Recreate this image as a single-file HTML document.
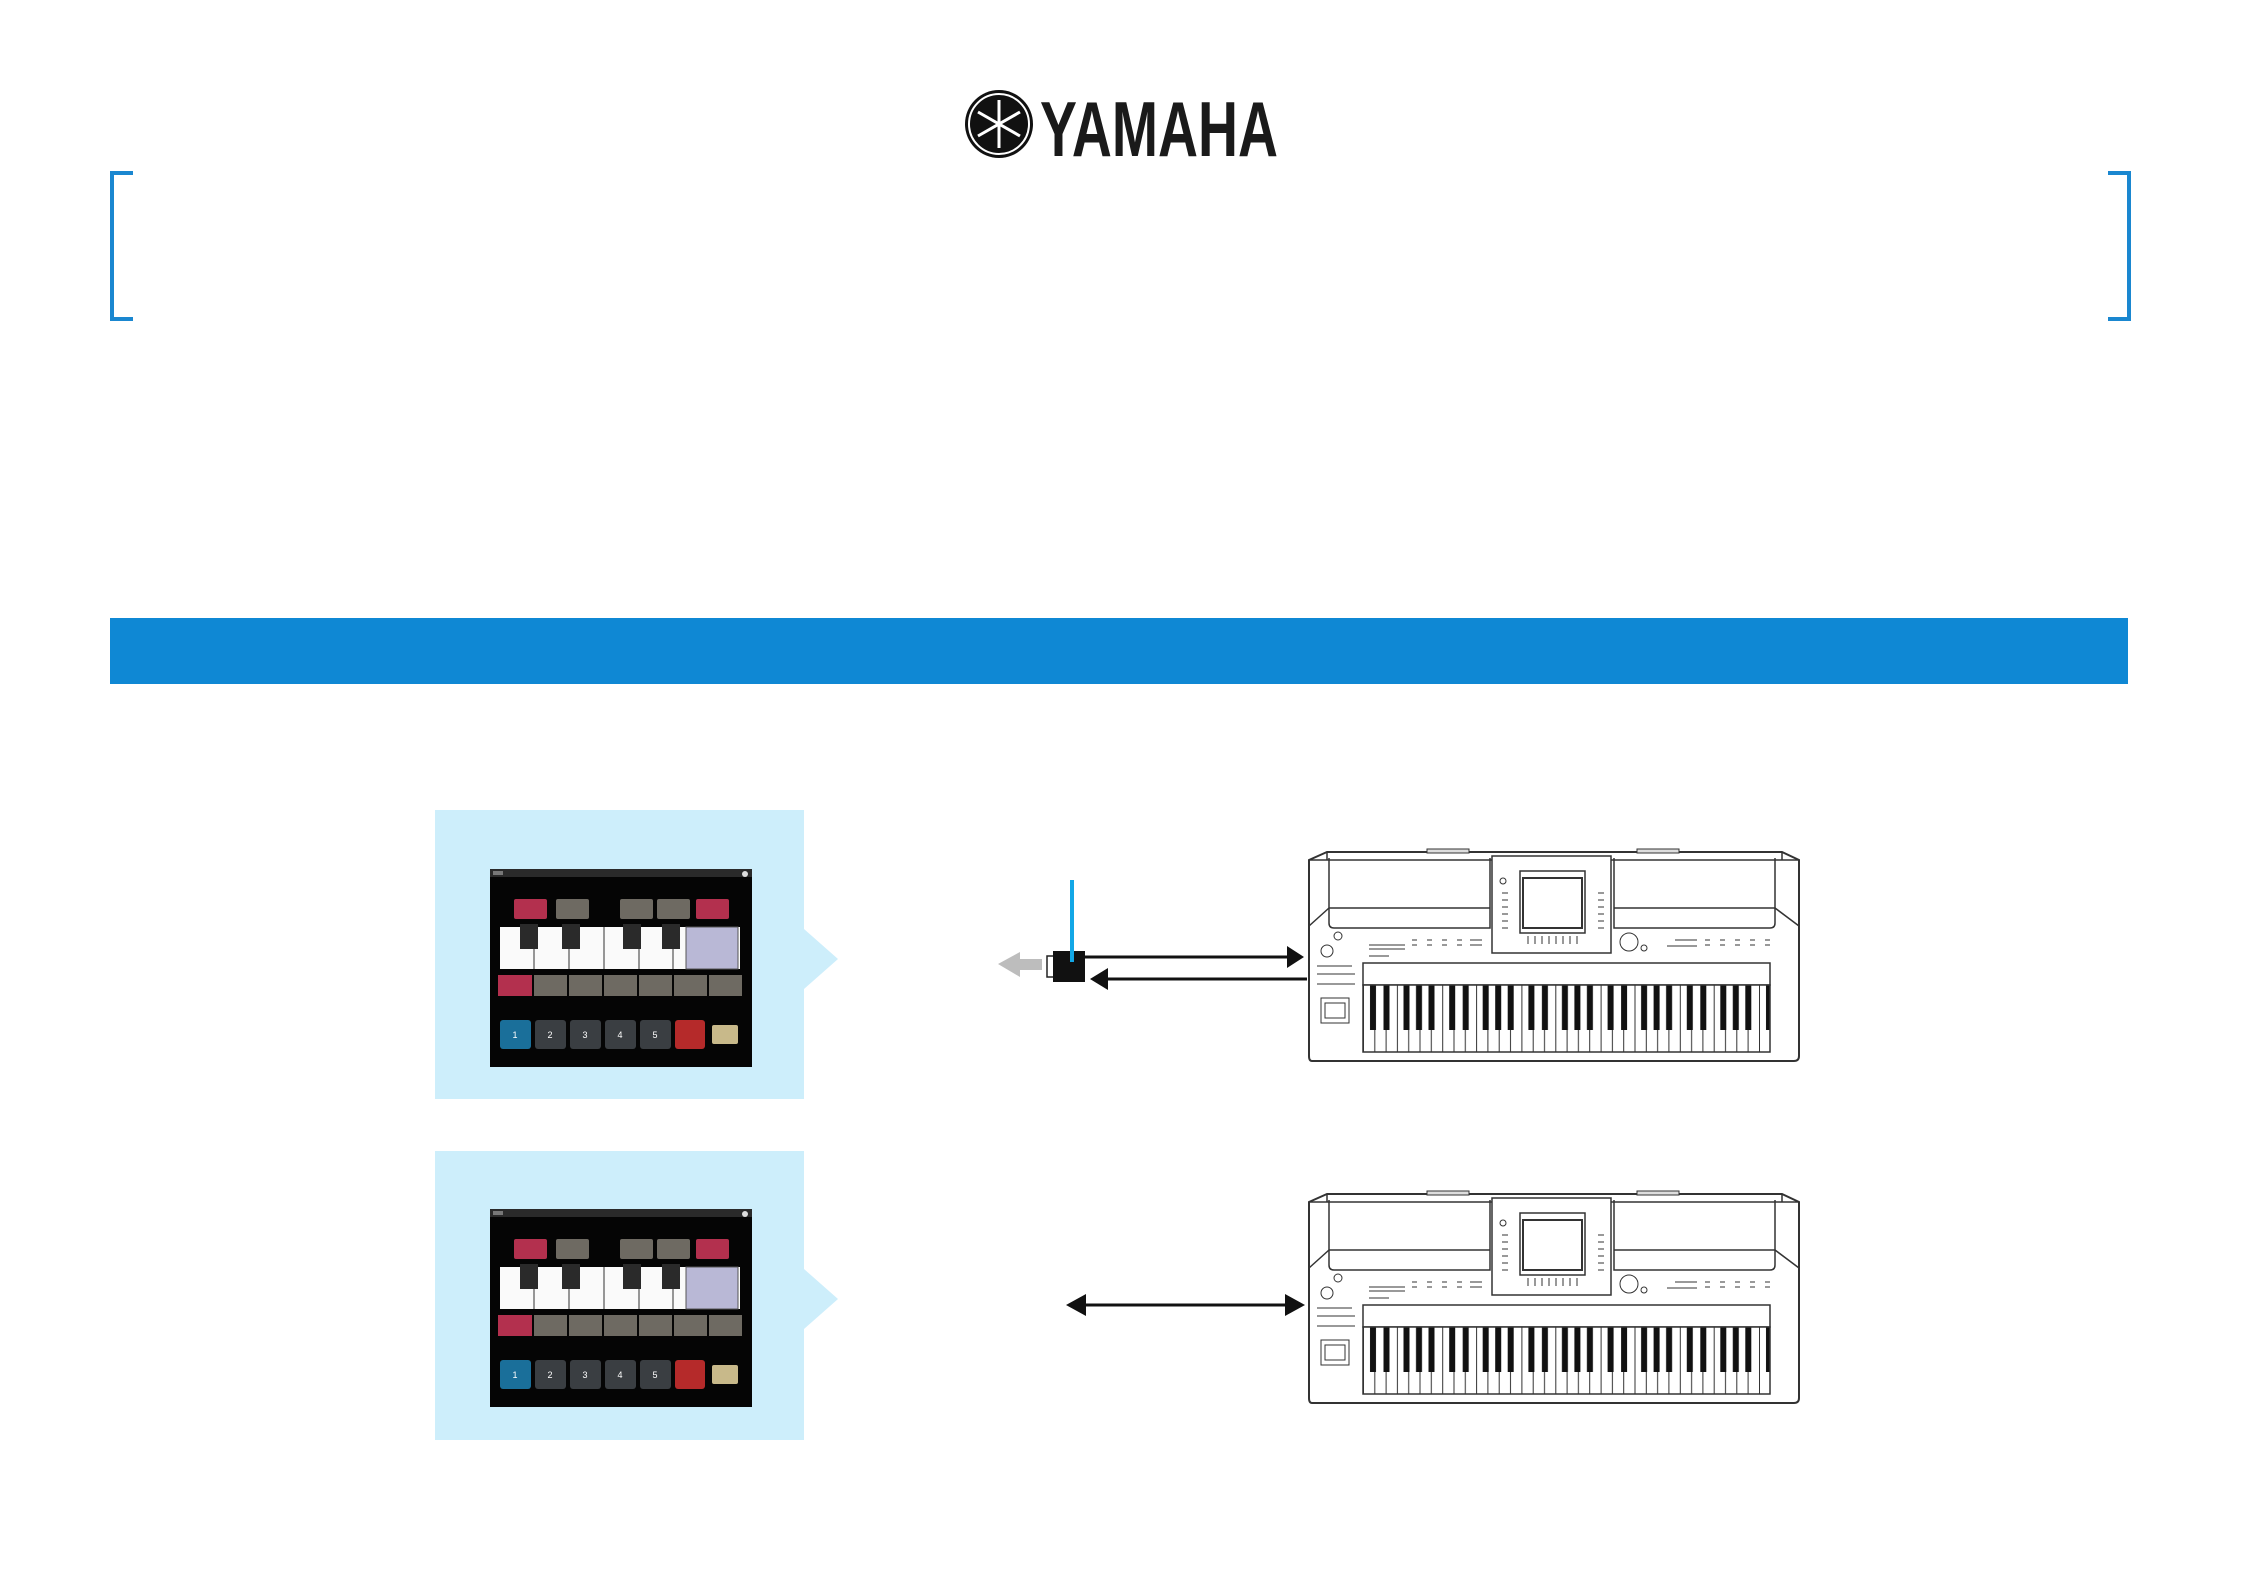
<!DOCTYPE html>
<html><head><meta charset="utf-8"><style>
html,body{margin:0;padding:0;background:#fff;}
body{width:2245px;height:1587px;overflow:hidden;position:relative;font-family:"Liberation Sans",sans-serif;}
</style></head><body>
<svg width="2245" height="1587" viewBox="0 0 2245 1587" xmlns="http://www.w3.org/2000/svg" style="position:absolute;left:0;top:0">
<defs>
<pattern id="oct" x="56" y="0" width="79.2" height="300" patternUnits="userSpaceOnUse">
  <rect x="0" y="0" width="79.2" height="300" fill="#fff"/>
  <g stroke="#333" stroke-width="1">
    <line x1="0.5" y1="0" x2="0.5" y2="300"/><line x1="11.8" y1="0" x2="11.8" y2="300"/><line x1="23.1" y1="0" x2="23.1" y2="300"/><line x1="34.4" y1="0" x2="34.4" y2="300"/><line x1="45.7" y1="0" x2="45.7" y2="300"/><line x1="57" y1="0" x2="57" y2="300"/><line x1="68.3" y1="0" x2="68.3" y2="300"/>
  </g>
  <g fill="#111">
    <rect x="7" y="0" width="6" height="182"/><rect x="20.5" y="0" width="6" height="182"/>
    <rect x="40.5" y="0" width="6" height="182"/><rect x="53" y="0" width="6" height="182"/><rect x="65.5" y="0" width="6" height="182"/>
  </g>
</pattern>
<g id="kb" fill="none" stroke="#333" stroke-width="1.5">
  <path d="M2 12 L20 4 L475 4 L492 12 L492 208 Q492 213 487 213 L5 213 Q2 213 2 208 Z" fill="#fff" stroke-width="2"/>
  <line x1="20" y1="4" x2="20" y2="12"/><line x1="475" y1="4" x2="475" y2="12"/>
  <line x1="2" y1="12" x2="492" y2="12"/>
  <rect x="120" y="1" width="42" height="4" fill="#ddd" stroke-width="1"/><rect x="330" y="1" width="42" height="4" fill="#ddd" stroke-width="1"/>
  <path d="M22 10 L22 75 Q22 80 27 80 L183 80 L183 10"/>
  <path d="M307 10 L307 80 L463 80 Q468 80 468 75 L468 10"/>
  <line x1="22" y1="60" x2="183" y2="60"/><line x1="307" y1="60" x2="468" y2="60"/>
  <line x1="2" y1="78" x2="22" y2="60"/><line x1="468" y1="60" x2="492" y2="78"/>
  <rect x="185" y="8" width="119" height="97" fill="#fff"/>
  <rect x="213" y="23" width="65" height="62"/><rect x="216" y="30" width="59" height="50" stroke-width="2"/>
  <g stroke-width="1"><circle cx="196" cy="33" r="3"/><circle cx="31" cy="88" r="4"/><circle cx="20" cy="103" r="6"/><circle cx="322" cy="94" r="9"/><circle cx="337" cy="100" r="3"/>
  <path d="M195 45h6M195 52h6M195 59h6M195 66h6M195 73h6M195 80h6M291 45h6M291 52h6M291 59h6M291 66h6M291 73h6M291 80h6M221 88v8M228 88v8M235 88v8M242 88v8M249 88v8M256 88v8M263 88v8M270 88v8"/>
  <path d="M62 97h36M62 101h36M62 108h20M105 92h5M105 97h5M120 92h5M120 97h5M135 92h5M135 97h5M150 92h5M150 97h5M163 92h12M163 97h12M360 98h30M368 92h22M398 92h5M398 97h5M413 92h5M413 97h5M428 92h5M428 97h5M443 92h5M443 97h5M458 92h5M458 97h5M10 118h35M10 126h38M10 136h38"/></g>
  <rect x="14" y="150" width="28" height="25" stroke-width="1"/><rect x="18" y="155" width="20" height="15" stroke-width="1"/>
  <rect x="56" y="115" width="407" height="22" fill="#fff"/>
  <rect x="56" y="137" width="407" height="67" fill="url(#oct)" stroke-width="1.5"/>
</g>
<g id="scr">
  <rect x="0" y="0" width="262" height="198" fill="#050505"/>
  <rect x="0" y="0" width="262" height="8" fill="#2a2a2a"/>
  <rect x="3" y="2" width="10" height="4" fill="#777"/><circle cx="255" cy="5" r="3" fill="#ddd"/>
  <rect x="24" y="30" width="33" height="20" rx="2" fill="#b3304e"/><rect x="66" y="30" width="33" height="20" rx="2" fill="#6e6a62"/>
  <rect x="130" y="30" width="33" height="20" rx="2" fill="#6e6a62"/><rect x="167" y="30" width="33" height="20" rx="2" fill="#6e6a62"/><rect x="206" y="30" width="33" height="20" rx="2" fill="#b3304e"/>
  <rect x="10" y="58" width="240" height="42" fill="#fafafa"/>
  <g stroke="#333" stroke-width="1"><line x1="44" y1="58" x2="44" y2="100"/><line x1="79" y1="58" x2="79" y2="100"/><line x1="114" y1="58" x2="114" y2="100"/><line x1="149" y1="58" x2="149" y2="100"/><line x1="183" y1="58" x2="183" y2="100"/></g>
  <g fill="#2a2a2a"><rect x="30" y="55" width="18" height="25"/><rect x="72" y="55" width="18" height="25"/><rect x="133" y="55" width="18" height="25"/><rect x="172" y="55" width="18" height="25"/></g>
  <rect x="196" y="58" width="52" height="42" fill="#b9b8d6" stroke="#555"/>
  <rect x="8" y="106" width="34" height="21" fill="#b3304e"/>
  <g fill="#6e6a62"><rect x="44" y="106" width="33" height="21"/><rect x="79" y="106" width="33" height="21"/><rect x="114" y="106" width="33" height="21"/><rect x="149" y="106" width="33" height="21"/><rect x="184" y="106" width="33" height="21"/><rect x="219" y="106" width="33" height="21"/></g>
  <rect x="10" y="151" width="31" height="29" rx="3" fill="#1a6f9a"/>
  <g fill="#3a3e42"><rect x="45" y="151" width="31" height="29" rx="3"/><rect x="80" y="151" width="31" height="29" rx="3"/><rect x="115" y="151" width="31" height="29" rx="3"/><rect x="150" y="151" width="31" height="29" rx="3"/></g>
  <rect x="185" y="151" width="30" height="29" rx="3" fill="#b52a2a"/>
  <rect x="222" y="156" width="26" height="19" rx="2" fill="#c8b98a"/>
  <g fill="#fff" font-size="9" font-family="Liberation Sans, sans-serif" text-anchor="middle"><text x="25" y="169">1</text><text x="60" y="169">2</text><text x="95" y="169">3</text><text x="130" y="169">4</text><text x="165" y="169">5</text></g>
</g>
</defs>

<!-- logo -->
<circle cx="999" cy="124" r="34" fill="#111"/>
<circle cx="999" cy="124" r="30" fill="none" stroke="#fff" stroke-width="2"/>
<g stroke="#fff" stroke-width="3"><line x1="999" y1="100" x2="999" y2="148"/><line x1="978" y1="112" x2="1020" y2="136"/><line x1="978" y1="136" x2="1020" y2="112"/></g>
<text x="1040" y="156" font-family="Liberation Sans, sans-serif" font-weight="bold" font-size="78" fill="#1a1a1a" textLength="238" lengthAdjust="spacingAndGlyphs">YAMAHA</text>

<!-- brackets -->
<path d="M133 173 H112 V319 H133" fill="none" stroke="#1a87d0" stroke-width="4"/>
<path d="M2108 173 H2129 V319 H2108" fill="none" stroke="#1a87d0" stroke-width="4"/>

<!-- bar -->
<rect x="110" y="618" width="2018" height="66" fill="#0f88d4"/>

<!-- panels -->
<path d="M435 810 H804 V929 L838 959 L804 989 V1099 H435 Z" fill="#cdeefb"/>
<path d="M435 1151 H804 V1269 L838 1299 L804 1329 V1440 H435 Z" fill="#cdeefb"/>
<use href="#scr" x="490" y="869"/>
<use href="#scr" x="490" y="1209"/>

<!-- keyboards -->
<use href="#kb" x="1307" y="848"/>
<use href="#kb" x="1307" y="1190"/>

<!-- connector 1 -->
<rect x="1047" y="956" width="7" height="21" fill="#fff" stroke="#222" stroke-width="1.5"/>
<rect x="1053" y="951" width="32" height="31" fill="#111"/>
<line x1="1072" y1="880" x2="1072" y2="962" stroke="#12a7e6" stroke-width="4"/>
<path d="M998 964 L1020 952 L1020 959 L1042 959 L1042 970 L1020 970 L1020 977 Z" fill="#bdbdbd"/>
<line x1="1085" y1="957" x2="1290" y2="957" stroke="#111" stroke-width="3"/>
<path d="M1287 946 L1304 957 L1287 968 Z" fill="#111"/>
<line x1="1105" y1="979" x2="1307" y2="979" stroke="#111" stroke-width="3"/>
<path d="M1108 968 L1090 979 L1108 990 Z" fill="#111"/>

<!-- connector 2 -->
<line x1="1080" y1="1305" x2="1290" y2="1305" stroke="#111" stroke-width="3"/>
<path d="M1086 1294 L1066 1305 L1086 1316 Z" fill="#111"/>
<path d="M1285 1294 L1305 1305 L1285 1316 Z" fill="#111"/>
</svg>
</body></html>
